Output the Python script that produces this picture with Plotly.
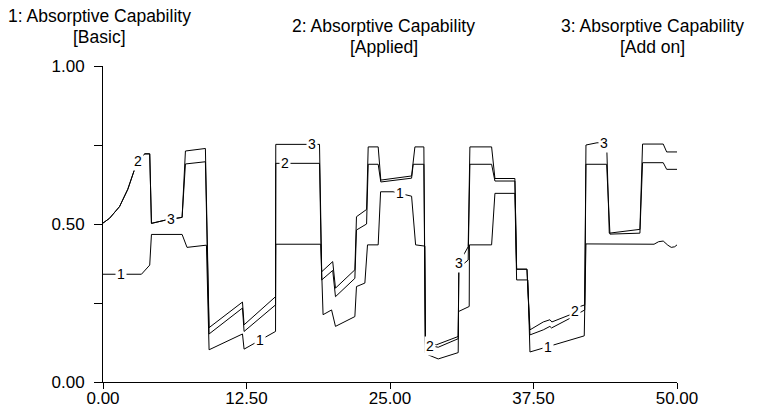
import numpy as np
import plotly.graph_objects as go

# ---------------- data ----------------
t1 = [0, 3.35, 4.07, 4.22, 6.89, 7.32, 9.01, 9.24, 12.15, 12.29, 15.03, 15.05,
      18.97, 19.17, 19.91, 20.25, 21.94, 22.08, 22.81, 23.04, 23.97, 24.18,
      25.27, 26.88, 27.23, 28.04, 28.08, 28.32, 29.20, 30.94, 30.97, 31.90,
      31.92, 33.85, 34.14, 35.88, 36.03, 37.01, 37.19, 38.35, 39.37, 41.92,
      42.07, 48.00, 48.4, 48.8, 49.2, 49.5, 49.8, 50.0]
v1 = [0.341, 0.341, 0.370, 0.467, 0.467, 0.426, 0.433, 0.102, 0.152, 0.104, 0.160, 0.436,
      0.436, 0.213, 0.228, 0.176, 0.207, 0.302, 0.313, 0.434, 0.434, 0.602,
      0.602, 0.588, 0.434, 0.430, 0.092, 0.086, 0.073, 0.093, 0.223, 0.239,
      0.434, 0.434, 0.597, 0.597, 0.323, 0.323, 0.095, 0.107, 0.118, 0.146,
      0.437, 0.436, 0.444, 0.446, 0.433, 0.426, 0.428, 0.434]

t2 = [0, 0.57, 1.44, 2.16, 2.74, 3.05, 3.62, 4.07, 4.22, 5.53, 6.89, 7.18, 8.92,
      9.24, 12.15, 12.29, 15.03, 15.05, 18.86, 19.05, 20.01, 20.25, 21.94, 22.08,
      22.96, 23.10, 23.97, 24.20, 26.88, 27.02, 27.95, 28.08, 29.20, 30.94, 31.00,
      31.81, 31.96, 33.85, 34.14, 35.88, 36.03, 36.93, 37.19, 38.35, 38.93, 39.10,
      40.70, 41.56, 41.96, 42.07, 43.87, 44.16, 46.77, 47.00, 48.80, 49.10, 50.0]
v2 = [0.503, 0.518, 0.555, 0.610, 0.672, 0.698, 0.722, 0.722, 0.502, 0.513, 0.521, 0.690, 0.697,
      0.152, 0.234, 0.160, 0.244, 0.692, 0.692, 0.323, 0.353, 0.270, 0.328, 0.481,
      0.500, 0.689, 0.689, 0.633, 0.645, 0.689, 0.689, 0.118, 0.110, 0.137, 0.361,
      0.386, 0.689, 0.689, 0.636, 0.636, 0.357, 0.357, 0.165, 0.190, 0.197, 0.190,
      0.213, 0.239, 0.244, 0.689, 0.689, 0.468, 0.471, 0.694, 0.694, 0.673, 0.673]

t3 = [0, 0.57, 1.44, 2.16, 2.74, 3.05, 3.62, 4.07, 4.22, 5.53, 6.89, 7.18, 8.92,
      9.24, 12.15, 12.29, 15.03, 15.05, 18.86, 19.05, 20.01, 20.25, 21.94, 22.08,
      22.96, 23.10, 23.97, 24.20, 26.88, 27.17, 27.95, 28.08, 29.06, 30.80, 30.94,
      31.00, 31.81, 31.96, 33.85, 34.14, 35.88, 36.03, 36.93, 37.19, 38.35, 38.93,
      39.07, 40.70, 41.96, 42.07, 43.03, 43.87, 44.10, 46.77, 47.00, 48.80, 49.10, 50.0]
v3 = [0.503, 0.518, 0.555, 0.610, 0.672, 0.698, 0.722, 0.722, 0.502, 0.513, 0.521, 0.731, 0.739,
      0.172, 0.253, 0.181, 0.270, 0.752, 0.752, 0.349, 0.381, 0.297, 0.355, 0.523,
      0.546, 0.744, 0.744, 0.639, 0.652, 0.744, 0.744, 0.125, 0.118, 0.144, 0.144,
      0.375, 0.428, 0.744, 0.744, 0.644, 0.644, 0.357, 0.357, 0.149, 0.165, 0.176,
      0.171, 0.202, 0.228, 0.750, 0.757, 0.757, 0.471, 0.483, 0.753, 0.753, 0.728, 0.728]

label_times_1 = [1.60, 13.66, 25.86, 38.78]
label_times_2 = [3.05, 15.84, 28.47, 41.11]
label_times_3 = [5.96, 18.21, 31.03, 43.66]

titles = [("1: Absorptive Capability", "[Basic]"),
          ("2: Absorptive Capability", "[Applied]"),
          ("3: Absorptive Capability", "[Add on]")]

x_tickvals = [0, 12.5, 25, 37.5, 50]
x_ticktext = ["0.00", "12.50", "25.00", "37.50", "50.00"]
y_tickvals = [0, 0.25, 0.5, 0.75, 1.0]
y_ticktext = ["0.00", "", "0.50", "", "1.00"]

# ---------------- layout constants ----------------
W, H = 758, 413
L, R, T, B = 103.3, 81, 65.7, 30.7
FONT = "Liberation Sans, Arial, Helvetica, sans-serif"
plot_w = W - L - R
plot_h = H - T - B

fig = go.Figure()
series = [(t1, v1, label_times_1, "1"), (t2, v2, label_times_2, "2"), (t3, v3, label_times_3, "3")]
for ts, vs, _, name in series:
    fig.add_trace(go.Scatter(x=ts, y=vs, mode="lines", name=name,
                             line=dict(color="black", width=1), showlegend=False,
                             hoverinfo="skip"))

annotations = []
for ts, vs, lts, name in series:
    for lt in lts:
        annotations.append(dict(x=lt, y=float(np.interp(lt, ts, vs)), xref="x", yref="y",
                                text=name, showarrow=False, bgcolor="white",
                                font=dict(family=FONT, size=14, color="black"),
                                xanchor="center", yanchor="middle", borderpad=1))

# title positions in pixels (center x, center y of line 1, line 2)
title_pos = [(100, 16, 37), (384, 26, 47), (653, 26, 47)]
for (l1, l2), (cx, y1, y2) in zip(titles, title_pos):
    for txt, py in ((l1, y1), (l2, y2)):
        annotations.append(dict(x=(cx - L) / plot_w, y=(H - B - py) / plot_h,
                                xref="paper", yref="paper", text=txt, showarrow=False,
                                font=dict(family=FONT, size=17.5, color="black"),
                                xanchor="center", yanchor="middle"))

fig.update_layout(
    width=W, height=H,
    margin=dict(l=L, r=R, t=T, b=B, autoexpand=False),
    paper_bgcolor="white", plot_bgcolor="white",
    annotations=annotations,
    xaxis=dict(range=[0, 50], tickvals=x_tickvals, ticktext=x_ticktext,
               showgrid=False, zeroline=False, showline=True, linecolor="black",
               linewidth=1, ticks="outside", ticklen=6, tickcolor="black", tickwidth=1,
               tickfont=dict(family=FONT, size=17, color="black"),
               ticklabelstandoff=-5),
    yaxis=dict(range=[0, 1], tickvals=y_tickvals, ticktext=y_ticktext,
               showgrid=False, zeroline=False, showline=True, linecolor="black",
               linewidth=1, ticks="outside", ticklen=8, tickcolor="black", tickwidth=1,
               tickfont=dict(family=FONT, size=17, color="black"),
               ticklabelstandoff=6),
)

fig.write_html("out.html")
